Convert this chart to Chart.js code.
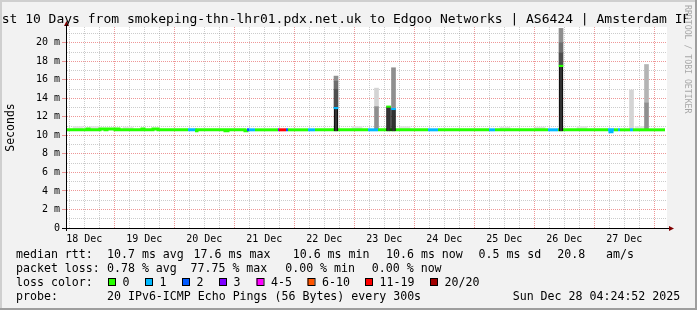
<!DOCTYPE html>
<html>
<head>
<meta charset="utf-8">
<title>smokeping</title>
<script src="https://cdn.jsdelivr.net/npm/chart.js@4.4.1/dist/chart.umd.min.js"></script>
<style>
  html, body { margin: 0; padding: 0; background: #f2f2f2; }
  canvas { display: block; }
</style>
</head>
<body>
<canvas id="smoke" width="697" height="310"></canvas>
<script>
const titleText = "Last 10 Days from smokeping-thn-lhr01.pdx.net.uk to Edgoo Networks | AS6424 | Amsterdam IPv6";
const dayLabels = ["18 Dec", "19 Dec", "20 Dec", "21 Dec", "22 Dec", "23 Dec", "24 Dec", "25 Dec", "26 Dec", "27 Dec"];

// loss buckets
const lossLabels = ["0", "1", "2", "3", "4-5", "6-10", "11-19", "20/20"];
const lossColors = ["#26ff00", "#00b8ff", "#0059ff", "#7e00ff", "#ff00ff", "#ff5500", "#ff0000", "#a10000"];

// median rtt, hours since 18 Dec 00:00, each value holds until the next hour
const rttHours = [4.68, 13.08, 13.88, 18.28, 20.28, 21.08, 24.28, 25.48, 25.88, 35.08, 35.88, 39.48, 41.48,
  53.48, 56.28, 57.08, 68.28, 69.48, 76.28, 77.08, 77.88, 80.28, 89.48, 89.88, 92.68, 93.48,
  101.48, 104.28, 125.48, 129.48, 149.48, 153.48, 173.88, 176.28, 197.48, 201.48,
  221.48, 222.28, 223.08, 223.88, 225.48, 226.28, 230.28, 231.48, 244.28];
const rttMs = [10.6, 10.7, 10.6, 10.7, 10.6, 10.7, 10.6, 10.7, 10.6, 10.7, 10.6, 10.7, 10.6,
  10.6, 10.5, 10.6, 10.5, 10.6, 10.5, 10.6, 10.6, 10.6, 10.6, 10.6, 10.6, 10.6,
  10.6, 10.6, 10.6, 10.6, 10.6, 10.6, 10.6, 10.6, 10.6, 10.6,
  10.6, 10.4, 10.6, 10.6, 10.6, 10.6, 10.6, 10.6, 10.6];
const rttLoss = [0, 0, 0, 0, 0, 0, 0, 0, 0, 0, 0, 0, 0,
  1, 0, 0, 0, 0, 0, 2, 1, 0, 3, 6, 2, 0,
  1, 0, 1, 0, 1, 0, 1, 0, 1, 0,
  1, 1, 1, 0, 1, 0, 1, 0, 0];

// median of the spikes
const spikeHours = [112.68, 133.68, 135.68, 202.68];
const spikeMedian = [12.95, 13.1, 12.85, 17.5];
const spikeLoss = [1, 0, 1, 0];

// smoke bands [hour, low ms, high ms]
const smokeCore = [[112.68, 10.45, 13.0], [133.68, 10.45, 13.1], [135.68, 10.45, 12.9], [202.68, 10.45, 17.45]];
const smokeShade1 = [[112.68, 13.0, 14.95], [202.68, 17.6, 18.9]];
const smokeShade2 = [[112.68, 14.95, 15.85], [202.68, 18.9, 20.0]];
const smokeShade3 = [[112.68, 15.85, 16.4], [128.88, 10.7, 13.1], [135.68, 13.0, 17.3], [202.68, 20.0, 21.55], [236.88, 10.7, 13.5]];
const smokeShade4 = [[236.88, 13.5, 17.65]];
const smokeShade5 = [[128.88, 13.1, 15.1], [230.88, 10.7, 14.9]];
const smokeFaint = [[9.5, 10.7, 10.95], [16.3, 10.7, 10.95], [29.5, 10.7, 10.9], [121.1, 10.7, 10.95],
  [140.3, 10.7, 10.95], [180.3, 10.7, 10.9], [194.3, 10.7, 10.9], [211.1, 10.7, 10.95], [234.3, 10.7, 10.95]];

const rttStats = ["10.7 ms avg", "17.6 ms max", "10.6 ms min", "10.6 ms now", "0.5 ms sd", "20.8", "am/s"];
const lossStats = ["0.78 % avg", "77.75 % max", "0.00 % min", "0.00 % now"];
const probeText = "20 IPv6-ICMP Echo Pings (56 Bytes) every 300s";
const dateText = "Sun Dec 28 04:24:52 2025";

const tickHours = [];
for (let h = 6; h <= 240; h += 6) tickHours.push(h);
const msTicks = [];
for (let v = 0; v <= 21; v++) msTicks.push(v);

const majorGrid = "rgba(222,48,48,0.5)";
const minorGrid = "rgba(143,143,143,0.45)";
const mono = '"DejaVu Sans Mono", monospace';

Chart.defaults.font.family = mono;

function band(list) {
  return list.map(b => ({ x: b[0], y: [b[1], b[2]] }));
}

function smokeSet(list, color, width) {
  return {
    type: "bar",
    data: band(list),
    backgroundColor: color,
    borderWidth: 0,
    barThickness: width || 4,
    grouped: false
  };
}

const rrdLook = {
  id: "rrdLook",
  beforeDraw(chart) {
    const ctx = chart.ctx;
    const ca = chart.chartArea;
    ctx.save();
    ctx.fillStyle = "#f2f2f2";
    ctx.fillRect(0, 0, chart.width, chart.height);
    ctx.fillStyle = "#ffffff";
    ctx.fillRect(ca.left, ca.top, ca.right - ca.left + 1, ca.bottom - ca.top);
    ctx.restore();
  },
  afterDraw(chart) {
    const ctx = chart.ctx;
    const ca = chart.chartArea;
    ctx.save();

    // axis extensions and arrows
    ctx.strokeStyle = "#000";
    ctx.lineWidth = 1;
    ctx.beginPath();
    ctx.moveTo(ca.left + 0.5, 24);
    ctx.lineTo(ca.left + 0.5, ca.bottom + 3);
    ctx.moveTo(ca.left - 4, ca.bottom + 0.5);
    ctx.lineTo(ca.right + 3, ca.bottom + 0.5);
    ctx.stroke();
    ctx.fillStyle = "#7f0000";
    ctx.beginPath();
    ctx.moveTo(ca.left + 0.5, 21);
    ctx.lineTo(ca.left - 2, 26);
    ctx.lineTo(ca.left + 3, 26);
    ctx.closePath();
    ctx.fill();
    ctx.beginPath();
    ctx.moveTo(ca.right + 8, ca.bottom + 0.5);
    ctx.lineTo(ca.right + 3, ca.bottom - 2);
    ctx.lineTo(ca.right + 3, ca.bottom + 3);
    ctx.closePath();
    ctx.fill();

    // title, cut off at the watermark like the original
    ctx.save();
    ctx.beginPath();
    ctx.rect(0, 0, 688, 30);
    ctx.clip();
    ctx.fillStyle = "#000";
    ctx.textBaseline = "alphabetic";
    ctx.textAlign = "left";
    ctx.font = "13px " + mono;
    ctx.fillText(titleText, -14, 23);
    ctx.restore();

    // legend
    ctx.fillStyle = "#000";
    ctx.textBaseline = "alphabetic";
    ctx.textAlign = "left";
    ctx.font = "11.6px " + mono;
    const rows = [257.5, 271.7, 285.9, 300.1];
    ctx.fillText("median rtt:", 16, rows[0]);
    [107, 193.6, 292.7, 386, 478.5, 557.2, 606].forEach((x, i) => ctx.fillText(rttStats[i], x, rows[0]));
    ctx.fillText("packet loss:", 16, rows[1]);
    [107, 190.5, 285.2, 371.8].forEach((x, i) => ctx.fillText(lossStats[i], x, rows[1]));
    ctx.fillText("loss color:", 16, rows[2]);
    const boxX = [108, 145, 182, 219, 256.5, 307.5, 365, 430];
    boxX.forEach((x, i) => {
      ctx.fillStyle = lossColors[i];
      ctx.fillRect(x, 278, 7, 7);
      ctx.strokeStyle = "#000";
      ctx.strokeRect(x + 0.5, 278.5, 7, 7);
      ctx.fillStyle = "#000";
      ctx.fillText(lossLabels[i], x + 14.5, rows[2]);
    });
    ctx.fillText("probe:", 16, rows[3]);
    ctx.fillText(probeText, 107, rows[3]);
    ctx.fillText(dateText, 512.7, rows[3]);

    // watermark
    ctx.save();
    ctx.translate(684.5, 5);
    ctx.rotate(Math.PI / 2);
    ctx.font = "8.2px " + mono;
    ctx.fillStyle = "#a8a8a8";
    ctx.fillText("RRDTOOL / TOBI OETIKER", 0, 0);
    ctx.restore();

    // frame
    ctx.fillStyle = "#cfcfcf";
    ctx.fillRect(0, 0, chart.width, 2);
    ctx.fillRect(0, 0, 2, chart.height);
    ctx.fillStyle = "#9e9e9e";
    ctx.fillRect(0, chart.height - 2, chart.width, 2);
    ctx.fillRect(chart.width - 2, 0, 2, chart.height);
    ctx.restore();
  }
};

new Chart(document.getElementById("smoke"), {
  type: "bar",
  data: {
    datasets: [
      {
        type: "bar",
        data: spikeHours.map((h, i) => ({ x: h, y: [spikeMedian[i] - 0.08, spikeMedian[i] + 0.08] })),
        backgroundColor: spikeLoss.map(l => lossColors[l]),
        borderWidth: 0,
        barThickness: 4,
        grouped: false
      },
      {
        type: "bar",
        data: band(smokeCore),
        backgroundColor: "#333333",
        borderColor: "#000000",
        borderWidth: 1,
        borderSkipped: "start",
        barThickness: 4,
        grouped: false
      },
      {
        type: "line",
        data: rttHours.map((h, i) => ({ x: h, y: rttMs[i] })),
        borderColor: lossColors[0],
        borderWidth: 3,
        pointRadius: 0,
        stepped: true,
        borderCapStyle: "butt",
        segment: {
          borderColor: c => lossColors[rttLoss[c.p0DataIndex]]
        }
      },
      smokeSet(smokeShade1, "#4d4d4d"),
      smokeSet(smokeShade2, "#6e6e6e"),
      smokeSet(smokeShade3, "#8f8f8f"),
      smokeSet(smokeShade4, "#b4b4b4"),
      smokeSet(smokeShade5, "#d4d4d4"),
      smokeSet(smokeFaint, "#e4e4e4", 10)
    ]
  },
  options: {
    responsive: false,
    animation: false,
    devicePixelRatio: 1,
    layout: { padding: { top: 27, right: 31, left: 0, bottom: 0 } },
    plugins: {
      legend: { display: false },
      tooltip: { enabled: false }
    },
    scales: {
      x: {
        type: "linear",
        min: 4.68,
        max: 244.68,
        offset: false,
        afterFit: s => { s.height = 82; },
        afterBuildTicks: s => { s.ticks = tickHours.map(v => ({ value: v })); },
        grid: {
          offset: false,
          drawTicks: false,
          color: c => (c.tick && c.tick.value % 24 === 0 ? majorGrid : minorGrid)
        },
        border: { color: "#000", dash: [1, 1] },
        ticks: {
          autoSkip: false,
          maxRotation: 0,
          padding: 5,
          color: "#000",
          font: { size: 10 },
          callback: v => (v % 24 === 12 ? dayLabels[(v - 12) / 24] : "")
        }
      },
      y: {
        type: "linear",
        min: 0,
        max: 21.7,
        afterFit: s => { s.width = 66; },
        afterBuildTicks: s => { s.ticks = msTicks.map(v => ({ value: v })); },
        grid: {
          color: c => (c.tick && c.tick.value % 2 === 0 ? majorGrid : minorGrid),
          tickLength: 4,
          tickColor: c => (c.tick && c.tick.value % 2 === 0 ? majorGrid : "rgba(0,0,0,0)")
        },
        border: { color: "#000", dash: [1, 1] },
        ticks: {
          autoSkip: false,
          padding: 2,
          color: "#000",
          font: { size: 10 },
          callback: v => (v === 0 ? "0" : v % 2 === 0 ? v + " m" : "")
        },
        title: {
          display: true,
          text: "Seconds",
          color: "#000",
          font: { size: 11.5 },
          padding: { top: 4, bottom: 0 }
        }
      }
    }
  },
  plugins: [rrdLook]
});
</script>
</body>
</html>
